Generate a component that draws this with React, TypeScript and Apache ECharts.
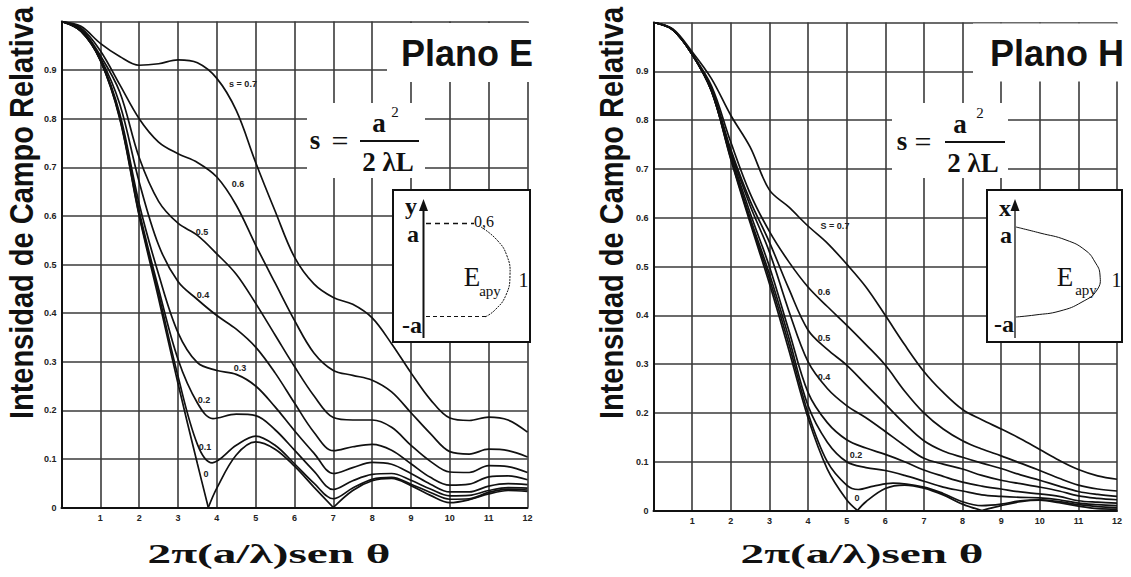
import React, { useEffect, useRef } from 'react';
import * as echarts from 'echarts';

// ---------------- DATA ----------------
// Plano E (E-plane) curves, [x, relative field]
const eS0: number[][] = [[0,1],[0.5,0.98],[1,0.92],[1.5,0.8],[2,0.6],[2.5,0.43],[3,0.255],[3.5,0.09],[3.78,0],[4,0.04],[4.5,0.108],[5,0.135],[5.5,0.12],[6,0.085],[6.5,0.042],[7,0],[7.5,0.035],[8,0.055],[8.5,0.06],[9,0.045],[9.5,0.025],[10,0.01],[10.5,0.016],[11,0.028],[11.5,0.035],[12,0.033]];
const eS01: number[][] = [[0,1],[0.5,0.98],[1,0.92],[1.5,0.802],[2,0.603],[2.5,0.44],[3,0.27],[3.5,0.13],[3.88,0.092],[4.5,0.128],[5,0.147],[5.5,0.128],[6,0.09],[6.5,0.05],[7,0.018],[7.5,0.04],[8,0.058],[8.5,0.062],[9,0.048],[9.5,0.031],[10,0.017],[10.5,0.018],[11,0.031],[11.5,0.038],[12,0.036]];
const eS02: number[][] = [[0,1],[0.5,0.98],[1,0.921],[1.5,0.805],[2,0.61],[2.5,0.45],[3,0.305],[3.5,0.215],[3.9,0.183],[4.5,0.192],[5,0.189],[5.5,0.16],[6,0.118],[6.5,0.075],[7,0.037],[7.5,0.055],[8,0.068],[8.5,0.07],[9,0.056],[9.5,0.038],[10,0.024],[10.5,0.025],[11,0.035],[11.5,0.041],[12,0.04]];
const eS03: number[][] = [[0,1],[0.5,0.981],[1,0.922],[1.5,0.81],[2,0.625],[2.5,0.48],[3,0.36],[3.5,0.298],[4,0.282],[4.5,0.274],[5,0.25],[5.5,0.207],[6,0.158],[6.5,0.112],[7,0.07],[7.5,0.082],[8,0.093],[8.5,0.089],[9,0.07],[9.5,0.048],[10,0.032],[10.5,0.032],[11,0.044],[11.5,0.049],[12,0.047]];
const eS04: number[][] = [[0,1],[0.5,0.983],[1,0.925],[1.5,0.83],[2,0.67],[2.5,0.54],[3,0.465],[3.5,0.428],[4,0.395],[4.5,0.367],[5,0.33],[5.5,0.277],[6,0.215],[6.5,0.155],[7,0.117],[7.5,0.125],[8,0.13],[8.5,0.118],[9,0.09],[9.5,0.062],[10,0.046],[10.5,0.048],[11,0.063],[11.5,0.065],[12,0.057]];
const eS05: number[][] = [[0,1],[0.5,0.985],[1,0.93],[1.5,0.855],[2,0.72],[2.5,0.63],[3,0.585],[3.5,0.56],[4,0.522],[4.5,0.48],[5,0.42],[5.5,0.355],[6,0.29],[6.5,0.23],[7,0.185],[7.5,0.18],[8,0.18],[8.5,0.165],[9,0.128],[9.5,0.095],[10,0.073],[10.5,0.072],[11,0.086],[11.5,0.084],[12,0.072]];
const eS06: number[][] = [[0,1],[0.5,0.987],[1,0.94],[1.5,0.87],[2,0.8],[2.5,0.752],[3,0.728],[3.5,0.71],[4,0.68],[4.5,0.622],[5,0.54],[5.5,0.462],[6,0.385],[6.5,0.318],[7,0.282],[7.5,0.272],[8,0.262],[8.5,0.238],[9,0.195],[9.5,0.152],[10,0.115],[10.5,0.11],[11,0.12],[11.5,0.117],[12,0.104]];
const eS07: number[][] = [[0,1],[0.5,0.99],[1,0.955],[1.5,0.928],[2,0.91],[2.5,0.913],[3,0.921],[3.5,0.915],[4,0.883],[4.5,0.817],[5,0.71],[5.5,0.61],[6,0.515],[6.5,0.46],[7,0.432],[7.5,0.418],[8,0.39],[8.5,0.337],[9,0.277],[9.5,0.222],[10,0.184],[10.5,0.179],[11,0.186],[11.5,0.18],[12,0.155]];

// Plano H (H-plane) curves
const hS0: number[][] = [[0,1],[0.5,0.985],[1,0.935],[1.5,0.86],[2,0.72],[2.5,0.59],[3,0.465],[3.5,0.33],[4,0.19],[4.5,0.085],[5,0.022],[5.28,0],[5.5,0.018],[6,0.045],[6.5,0.052],[7,0.046],[7.5,0.032],[8,0.013],[8.5,0],[9,0.01],[9.5,0.018],[10,0.021],[10.5,0.016],[11,0.009],[11.5,0.004],[12,0.003]];
const hS01: number[][] = [[0,1],[0.5,0.985],[1,0.935],[1.5,0.86],[2,0.722],[2.5,0.595],[3,0.475],[3.5,0.342],[4,0.2],[4.5,0.1],[5,0.052],[5.3,0.043],[5.7,0.05],[6.2,0.056],[7,0.048],[7.5,0.035],[8,0.018],[8.5,0.01],[9,0.013],[9.5,0.02],[10,0.022],[10.5,0.018],[11,0.012],[11.5,0.008],[12,0.006]];
const hS02: number[][] = [[0,1],[0.5,0.985],[1,0.935],[1.5,0.86],[2,0.725],[2.5,0.6],[3,0.485],[3.5,0.355],[4,0.215],[4.5,0.14],[5,0.1],[5.5,0.088],[6,0.082],[6.5,0.072],[7,0.06],[7.5,0.048],[8,0.04],[8.5,0.032],[9,0.029],[9.5,0.027],[10,0.026],[10.5,0.022],[11,0.015],[11.5,0.012],[12,0.01]];
const hS03: number[][] = [[0,1],[0.5,0.985],[1,0.935],[1.5,0.86],[2,0.73],[2.5,0.61],[3,0.5],[3.5,0.37],[4,0.242],[4.5,0.18],[5,0.145],[5.5,0.128],[6,0.115],[6.5,0.1],[7,0.083],[7.5,0.07],[8,0.058],[8.5,0.05],[9,0.044],[9.5,0.038],[10,0.034],[10.5,0.029],[11,0.02],[11.5,0.017],[12,0.015]];
const hS04: number[][] = [[0,1],[0.5,0.985],[1,0.935],[1.5,0.862],[2,0.735],[2.5,0.625],[3,0.53],[3.5,0.41],[4,0.305],[4.5,0.25],[5,0.215],[5.5,0.19],[6,0.162],[6.5,0.133],[7,0.107],[7.5,0.095],[8,0.085],[8.5,0.072],[9,0.062],[9.5,0.055],[10,0.048],[10.5,0.04],[11,0.03],[11.5,0.025],[12,0.022]];
const hS05: number[][] = [[0,1],[0.5,0.985],[1,0.935],[1.5,0.865],[2,0.74],[2.5,0.635],[3,0.55],[3.5,0.455],[4,0.37],[4.5,0.33],[5,0.298],[5.5,0.258],[6,0.218],[6.5,0.178],[7,0.143],[7.5,0.122],[8,0.109],[8.5,0.097],[9,0.086],[9.5,0.073],[10,0.062],[10.5,0.05],[11,0.039],[11.5,0.033],[12,0.029]];
const hS06: number[][] = [[0,1],[0.5,0.986],[1,0.935],[1.5,0.87],[2,0.755],[2.5,0.65],[3,0.572],[3.5,0.51],[4,0.458],[4.5,0.418],[5,0.38],[5.5,0.34],[6,0.298],[6.5,0.245],[7,0.2],[7.5,0.167],[8,0.143],[8.5,0.126],[9,0.112],[9.5,0.097],[10,0.082],[10.5,0.066],[11,0.052],[11.5,0.044],[12,0.04]];
const hS07: number[][] = [[0,1],[0.5,0.987],[1,0.94],[1.5,0.885],[2,0.81],[2.5,0.745],[3,0.657],[3.5,0.622],[4,0.583],[4.5,0.548],[5,0.505],[5.5,0.458],[6,0.4],[6.5,0.34],[7,0.285],[7.5,0.242],[8,0.207],[8.5,0.186],[9,0.167],[9.5,0.147],[10,0.125],[10.5,0.103],[11,0.084],[11.5,0.071],[12,0.064]];

const eCurves = [eS0, eS01, eS02, eS03, eS04, eS05, eS06, eS07];
const hCurves = [hS0, hS01, hS02, hS03, hS04, hS05, hS06, hS07];

// texts
const yTitle = 'Intensidad de Campo Relativa';
const xTitle = '2\u03C0(a/\u03BB)sen \u03B8';
const eTitle = 'Plano E';
const hTitle = 'Plano H';
const eCurveLabels = ['s = 0.7', '0.6', '0.5', '0.4', '0.3', '0.2', '0.1', '0'];
const hCurveLabels = ['S = 0.7', '0.6', '0.5', '0.4', '0.2', '0'];

// ---------------- HELPERS ----------------
const SANS = '"Liberation Sans", Arial, sans-serif';
const SERIF = '"Liberation Serif", "Times New Roman", serif';
const INK = '#111';

function splitAtZeros(pts: number[][]): number[][][] {
  const segs: number[][][] = [];
  let cur: number[][] = [];
  pts.forEach((p, i) => {
    cur.push(p);
    if (p[1] === 0 && i > 0 && i < pts.length - 1) {
      segs.push(cur);
      cur = [p];
    }
  });
  segs.push(cur);
  return segs;
}

function curveSeries(curves: number[][][], idx: number) {
  const out: any[] = [];
  curves.forEach((c) => {
    splitAtZeros(c).forEach((seg) => {
      out.push({
        type: 'line',
        xAxisIndex: idx,
        yAxisIndex: idx,
        data: seg,
        smooth: 0.35,
        symbol: 'none',
        silent: true,
        z: 3,
        lineStyle: { color: INK, width: 1.7 },
      });
    });
  });
  return out;
}

function txt(text: string, x: number, y: number, fontSize: number, opts: any = {}) {
  return {
    type: 'text',
    x,
    y,
    z: 20,
    rotation: opts.rotation || 0,
    scaleX: opts.scaleX || 1,
    scaleY: opts.scaleY || 1,
    silent: true,
    style: {
      text,
      fontSize,
      fontFamily: opts.fontFamily || SANS,
      fontWeight: opts.fontWeight || 'normal',
      fill: opts.fill || INK,
      align: opts.align || 'center',
      verticalAlign: 'middle',
    },
  };
}

function whiteRect(x: number, y: number, w: number, h: number) {
  return { type: 'rect', z: 10, silent: true, shape: { x, y, width: w, height: h }, style: { fill: '#fff' } };
}

function line(x1: number, y1: number, x2: number, y2: number, w: number, dash?: number[]) {
  return {
    type: 'line', z: 21, silent: true,
    shape: { x1, y1, x2, y2 },
    style: { stroke: INK, lineWidth: w, lineDash: dash || null },
  };
}

function formula(sx: number, eqx: number, barX1: number, barX2: number, barY: number, ax: number, supX: number, denX: number) {
  return [
    txt('s', sx, barY, 27, { fontFamily: SERIF, fontWeight: 'bold' }),
    txt('=', eqx, barY, 30, { fontFamily: SERIF }),
    line(barX1, barY + 1, barX2, barY + 1, 2),
    txt('a', ax, barY - 17, 27, { fontFamily: SERIF, fontWeight: 'bold' }),
    txt('2', supX, barY - 28, 15, { fontFamily: SERIF }),
    txt('2 \u03BBL', denX, barY + 22, 27, { fontFamily: SERIF, fontWeight: 'bold' }),
  ];
}

function axisPair(idx: number) {
  const axisLine = { show: true, lineStyle: { color: INK, width: 2 } };
  const split = { show: true, lineStyle: { color: '#3a3a3a', width: 1.6 } };
  const label = { fontSize: 9, color: '#222', fontFamily: SANS, fontWeight: 'bold' as const };
  return {
    x: {
      type: 'value', gridIndex: idx, min: 0, max: 12, interval: 1,
      axisLine, axisTick: { show: false }, splitLine: split,
      axisLabel: { ...label, margin: 6, formatter: (v: number) => (v === 0 ? '' : String(v)) },
    },
    y: {
      type: 'value', gridIndex: idx, min: 0, max: 1, interval: 0.1,
      axisLine, axisTick: { show: false }, splitLine: split,
      axisLabel: { ...label, margin: 5, formatter: (v: number) => (v >= 0.999 ? '' : v === 0 ? '0' : v.toFixed(1)) },
    },
  };
}

export default function App() {
  const ref = useRef<HTMLDivElement>(null);

  useEffect(() => {
    const el = ref.current;
    if (!el) return;
    const chart = echarts.init(el, undefined, { renderer: 'svg' });
    const a0 = axisPair(0);
    const a1 = axisPair(1);

    const graphics: any[] = [
      // white patches
      whiteRect(387, 23, 143, 59),
      whiteRect(973, 23.5, 158, 58),
      whiteRect(307, 103, 118, 75),
      whiteRect(892, 103, 116, 75),
      // titles
      txt(eTitle, 467, 53, 36, { fontWeight: 'bold' }),
      txt(hTitle, 1057, 53, 36, { fontWeight: 'bold' }),
      txt(yTitle, 22, 213, 29, { rotation: Math.PI / 2, fontWeight: 'bold', scaleY: 1.12 }),
      txt(yTitle, 612, 213, 29, { rotation: Math.PI / 2, fontWeight: 'bold', scaleY: 1.12 }),
      txt(xTitle, 269, 554, 27, { fontFamily: SERIF, fontWeight: 'bold', scaleX: 1.75 }),
      txt(xTitle, 862, 554, 27, { fontFamily: SERIF, fontWeight: 'bold', scaleX: 1.75 }),
      // formulas
      ...formula(315, 340, 360, 419, 140, 379, 395, 388),
      ...formula(902, 923, 945, 1005, 141, 960, 980, 973),
      // insets
      { type: 'rect', z: 15, silent: true, shape: { x: 393, y: 190, width: 137, height: 152 }, style: { fill: '#fff', stroke: INK, lineWidth: 2 } },
      { type: 'rect', z: 15, silent: true, shape: { x: 987, y: 190, width: 135, height: 152 }, style: { fill: '#fff', stroke: INK, lineWidth: 2 } },
      line(423.5, 338, 423.5, 207, 2),
      { type: 'polygon', z: 21, silent: true, shape: { points: [[419, 211], [428, 211], [423.5, 199]] }, style: { fill: INK } },
      line(1015, 338, 1015, 207, 1.3),
      { type: 'polygon', z: 21, silent: true, shape: { points: [[1010.5, 211], [1019.5, 211], [1015, 199]] }, style: { fill: INK } },
      txt('y', 411, 206, 24, { fontFamily: SERIF, fontWeight: 'bold' }),
      txt('a', 413, 234, 24, { fontFamily: SERIF, fontWeight: 'bold' }),
      txt('-a', 412, 325, 24, { fontFamily: SERIF, fontWeight: 'bold' }),
      txt('x', 1005, 208, 24, { fontFamily: SERIF, fontWeight: 'bold' }),
      txt('a', 1006, 235, 24, { fontFamily: SERIF, fontWeight: 'bold' }),
      txt('-a', 1004, 324, 24, { fontFamily: SERIF, fontWeight: 'bold' }),
      line(426, 223.5, 474, 223.5, 1.5, [5, 4]),
      line(426, 316.5, 486, 316.5, 1, [4, 3]),
      txt('0,6', 484, 221, 16, { fontFamily: SERIF }),
      { type: 'polyline', z: 21, silent: true, shape: { smooth: 0.5, points: [[481, 227], [497, 240], [507, 256], [510, 275], [506, 295], [495, 310], [485, 317]] }, style: { stroke: INK, lineWidth: 1, fill: null, lineDash: [2, 1] } },
      { type: 'polyline', z: 21, silent: true, shape: { smooth: 0.5, points: [[1016, 227], [1040, 233], [1066, 240], [1085, 250], [1095, 262], [1100, 275], [1097, 290], [1082, 302], [1060, 311], [1035, 315], [1016, 317]] }, style: { stroke: INK, lineWidth: 1, fill: null } },
      txt('E', 472, 277, 27, { fontFamily: SERIF }),
      txt('apy', 490, 291, 15, { fontFamily: SERIF }),
      txt('1', 523.5, 280, 20, { fontFamily: SERIF }),
      txt('E', 1065, 277, 27, { fontFamily: SERIF }),
      txt('apy', 1086, 290, 15, { fontFamily: SERIF }),
      txt('1', 1116.5, 280, 20, { fontFamily: SERIF }),
    ];

    // curve labels
    const ePos = [[243, 84], [238, 184], [202, 232], [203, 295], [240, 368], [204, 400], [205, 447], [206, 474]];
    eCurveLabels.forEach((t, i) => graphics.push(txt(t, ePos[i][0], ePos[i][1], 9, { fontWeight: 'bold', fill: '#222' })));
    const hPos = [[835, 226], [824, 292], [824, 338], [824, 377], [856, 455], [857, 498]];
    hCurveLabels.forEach((t, i) => graphics.push(txt(t, hPos[i][0], hPos[i][1], 9, { fontWeight: 'bold', fill: '#222' })));

    chart.setOption({
      animation: false,
      backgroundColor: '#fff',
      grid: [
        { left: 61.5, top: 21.5, width: 466, height: 486 },
        { left: 653.5, top: 22.5, width: 463.5, height: 488 },
      ],
      xAxis: [a0.x, a1.x],
      yAxis: [a0.y, a1.y],
      series: [...curveSeries(eCurves, 0), ...curveSeries(hCurves, 1)],
      graphic: { elements: graphics },
    });
    return () => chart.dispose();
  }, []);

  return (
    <div
      ref={ref}
      style={{ position: 'fixed', left: 0, top: 0, width: 1131, height: 577, background: '#fff' }}
    />
  );
}
